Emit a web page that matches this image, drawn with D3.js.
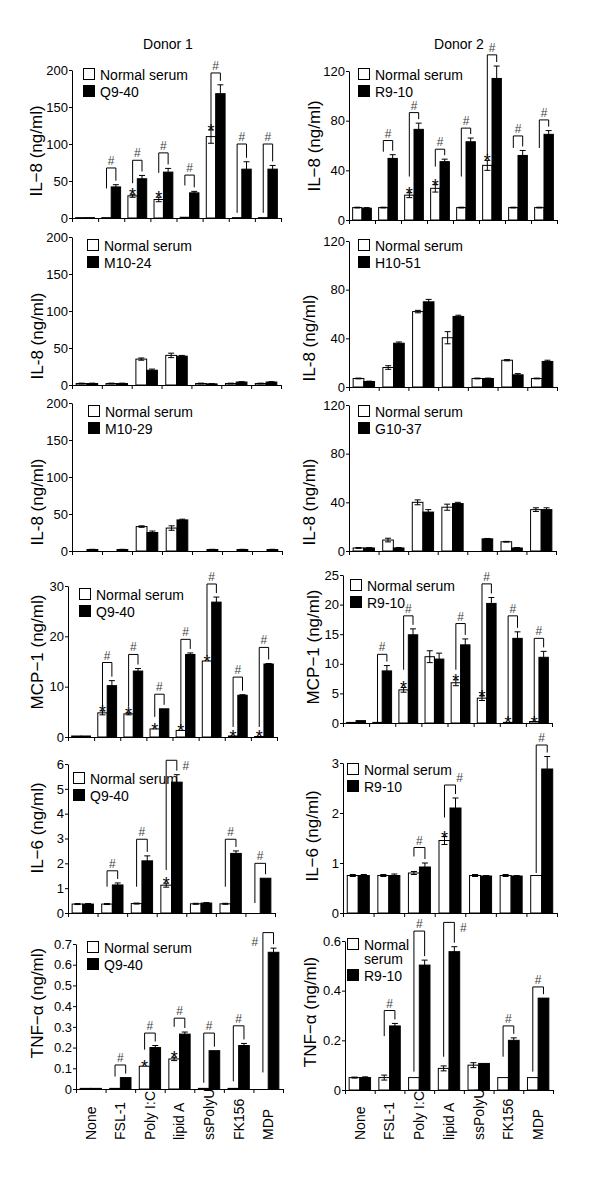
<!DOCTYPE html>
<html><head><meta charset="utf-8">
<script src="https://cdn.jsdelivr.net/npm/d3@7"></script>
<style>body{margin:0;background:#fff} text{font-family:"Liberation Sans",Arial,sans-serif}</style>
</head><body><svg id="c" width="600" height="1189"></svg>
<script>
// ---------- categories ----------
const stimuli = ["None","FSL-1","Poly I:C","lipid A","ssPolyU","FK156","MDP"];
const groups8 = ["g1","g2","g3","g4","g5","g6","g7","g8"];
// ---------- tick labels ----------
const ticksIL8a = [0,50,100,150,200];
const ticksIL8b = [0,40,80,120];
const ticksMCPa = [0,10,20,30];
const ticksMCPb = [0,5,10,15,20,25];
const ticksIL6a = [0,1,2,3,4,5,6];
const ticksIL6b = [0,1,2,3];
const ticksTNFa = [0,0.1,0.2,0.3,0.4,0.5,0.6,0.7];
const ticksTNFb = [0,0.2,0.4,0.6];

// ---------- Panel 1: IL-8 Donor 1, Q9-40 ----------
const p1Normal    = [0.5, 0.5, 30, 25, 1, 110, 0.5, 0.5];
const p1NormalErr = [0, 0, 2, 3, 0, 9, 0, 0];
const p1Serum     = [0.5, 42, 53, 62, 34, 168, 66, 66];
const p1SerumErr  = [0, 3, 4.5, 5, 2, 12, 10, 5];
const p1Star      = [0,0,1,1,0,1,0,0];
const p1BrTop     = [null, 67.6, 78, 88, 58, 196, 100, 100];
const p1BrLeft    = [null, 40, 47, 61, 44, 119, 7, 7];
const p1Hash      = ["c","c","c","c","c","c","c","c"];
// ---------- Panel 2: IL-8 Donor 2, R9-10 ----------
const p2Normal    = [10, 10, 20, 25.5, 10, 44, 10, 10];
const p2NormalErr = [0.3, 0.3, 2, 3, 0.3, 4, 0.3, 0.3];
const p2Serum     = [9.5, 49.6, 73, 47, 63, 114, 52, 69];
const p2SerumErr  = [0.5, 3, 5, 2, 3, 10, 4, 3];
const p2Star      = [0,0,1,1,0,1,0,0];
const p2BrTop     = [null, 64, 86.5, 57, 74, 133, 67.7, 80.6];
const p2BrLeft    = [null, 55, 35, 43, 35, 52, 58, 58];
const p2Hash      = ["c","c","c","c","c","c","c","c"];
// ---------- Panel 3: IL-8 Donor 1, M10-24 ----------
const p3Normal    = [2, 2, 35, 40, 2, 2, 2];
const p3NormalErr = [0.5, 0.5, 1.5, 3, 0.5, 0.5, 0.5];
const p3Serum     = [2, 2, 20, 39, 1.5, 4, 4];
const p3SerumErr  = [0.5, 0.5, 1.5, 1, 0.3, 0.5, 0.5];
// ---------- Panel 4: IL-8 Donor 2, H10-51 ----------
const p4Normal    = [7, 16, 62, 40.5, 7, 22, 7];
const p4NormalErr = [0.3, 1.5, 1, 5, 0.3, 0.5, 0.3];
const p4Serum     = [4.5, 36, 70, 58, 7, 10, 21];
const p4SerumErr  = [0.3, 1, 2, 1, 0.3, 1, 1];
// ---------- Panel 5: IL-8 Donor 1, M10-29 ----------
const p5Normal    = [0, 0, 33, 31, 0, 0, 0];
const p5NormalErr = [0, 0, 1, 3, 0, 0, 0];
const p5Serum     = [2, 2, 25, 42, 2, 2, 2];
const p5SerumErr  = [0.3, 0.3, 2, 1, 0.3, 0.3, 0.3];
// ---------- Panel 6: IL-8 Donor 2, G10-37 ----------
const p6Normal    = [2.5, 9, 40, 36, 0, 7.6, 34];
const p6NormalErr = [0.3, 1.5, 2, 2.5, 0, 0.3, 1.5];
const p6Serum     = [2.5, 2.5, 32, 39, 10, 2.5, 34];
const p6SerumErr  = [0.3, 0.3, 2, 1, 0.3, 0.3, 1.5];
// ---------- Panel 7: MCP-1 Donor 1, Q9-40 ----------
const p7Normal    = [0.2, 4.8, 4.6, 1.6, 1.3, 15.1, 0.2, 0.1];
const p7NormalErr = [0, 0.4, 0.2, 0, 0, 0, 0, 0];
const p7Serum     = [0.2, 10.2, 13.1, 5.6, 16.4, 26.8, 8.3, 14.5];
const p7SerumErr  = [0, 1, 0.5, 0, 0.3, 1, 0.1, 0.1];
const p7Star      = [0,1,1,1,1,1,1,1];
const p7BrTop     = [null, 14.8, 16.4, 8.5, 19.4, 30.4, 11.9, 17.8];
const p7BrLeft    = [null, 6, 6, 4, 2, 16, 2, 2];
const p7Hash      = ["c","c","c","c","c","c","c","c"];
// ---------- Panel 8: MCP-1 Donor 2, R9-10 ----------
const p8Normal    = [0.1, 0.1, 5.6, 11.2, 6.8, 4.2, 0.1, 0.25];
const p8NormalErr = [0, 0, 0.4, 1, 0.5, 0.4, 0, 0];
const p8Serum     = [0.4, 8.8, 14.9, 10.8, 13.2, 20.2, 14.3, 11.1];
const p8SerumErr  = [0, 0.9, 1, 1, 1, 1, 1.1, 1];
const p8Star      = [0,0,1,0,1,1,1,1];
const p8BrTop     = [null, 11.6, 18.1, null, 16.8, 23.5, 18.1, 14.3];
const p8BrLeft    = [null, 0, 9, null, 9, 4.4, 0.5, 0.5];
const p8Hash      = ["c","c","c","c","c","c","c","c"];
// ---------- Panel 9: IL-6 Donor 1, Q9-40 ----------
const p9Normal    = [0.36, 0.36, 0.38, 1.12, 0.37, 0.37, 0];
const p9NormalErr = [0.02, 0.02, 0.02, 0.08, 0.02, 0.02, 0];
const p9Serum     = [0.36, 1.13, 2.1, 5.27, 0.4, 2.4, 1.4];
const p9SerumErr  = [0.02, 0.08, 0.2, 0.3, 0.02, 0.1, 0];
const p9Star      = [0,0,0,1,0,0,0];
const p9BrTop     = [null, 1.7, 2.97, 6.15, null, 2.97, 2.0];
const p9BrLeft    = [null, 1.06, 1.06, 1.73, null, 1.06, 0.4];
const p9Hash      = ["c","c","c","r","c","c","c"];
// ---------- Panel 10: IL-6 Donor 2, R9-10 ----------
const p10Normal    = [0.75, 0.75, 0.8, 1.45, 0.75, 0.75, 0.75];
const p10NormalErr = [0.02, 0.02, 0.03, 0.08, 0.02, 0.02, 0];
const p10Serum     = [0.75, 0.75, 0.92, 2.1, 0.74, 0.74, 2.88];
const p10SerumErr  = [0.02, 0.03, 0.08, 0.2, 0.01, 0.01, 0.25];
const p10Star      = [0,0,0,1,0,0,0];
const p10BrTop     = [null, null, 1.31, 2.56, null, null, 3.36];
const p10BrLeft    = [null, null, 1.13, 1.91, null, null, 0.8];
const p10Hash      = ["c","c","c","cr","c","c","c"];
// ---------- Panel 11: TNF-a Donor 1, Q9-40 ----------
const p11Normal    = [0.003, 0.003, 0.11, 0.145, 0.003, 0.003, 0];
const p11NormalErr = [0, 0, 0, 0.008, 0, 0, 0];
const p11Serum     = [0.003, 0.055, 0.2, 0.265, 0.185, 0.21, 0.66];
const p11SerumErr  = [0, 0, 0.01, 0.01, 0, 0.01, 0.02];
const p11Star      = [0,0,1,1,0,0,0];
const p11BrTop     = [null, 0.116, 0.27, 0.342, 0.27, 0.305, 0.755];
const p11BrLeft    = [null, 0.06, 0.19, 0.30, 0.03, 0.037, 0.08];
const p11Hash      = ["c","c","c","c","c","c","l"];
// ---------- Panel 12: TNF-a Donor 2, R9-10 ----------
const p12Normal    = [0.05, 0.05, 0.05, 0.087, 0.1, 0.05, 0.05];
const p12NormalErr = [0.002, 0.01, 0, 0.01, 0.01, 0, 0];
const p12Serum     = [0.05, 0.258, 0.503, 0.557, 0.107, 0.2, 0.37];
const p12SerumErr  = [0.003, 0.01, 0.02, 0.02, 0, 0.01, 0];
const p12Star      = [0,0,0,0,0,0,0];
const p12BrTop     = [null, 0.32, 0.64, 0.675, null, 0.258, 0.415];
const p12BrLeft    = [null, 0.217, 0.074, 0.134, null, 0.134, 0.074];
const p12Hash      = ["c","c","c","r","c","c","c"];

const svg = d3.select("#c");
svg.append("rect").attr("width",600).attr("height",1189).attr("fill","#fff");

const intFmt = d3.format("d");
const decFmt = d => d === 0 ? "0" : d3.format(".1f")(d);

const panels = [
 {cats:groups8, n:p1Normal, ne:p1NormalErr, s:p1Serum, se:p1SerumErr, star:p1Star, bt:p1BrTop, bl:p1BrLeft, hp:p1Hash,
  x0:72, x1:281, yt:70, yb:218, max:200, ticks:ticksIL8a, fmt:intFmt, title:"IL−8 (ng/ml)", tx:42, ty:151, lx:83, ly:68, leg:[["Normal serum"],["Q9-40"]]},
 {cats:groups8, n:p2Normal, ne:p2NormalErr, s:p2Serum, se:p2SerumErr, star:p2Star, bt:p2BrTop, bl:p2BrLeft, hp:p2Hash,
  x0:349, x1:557, yt:71, yb:220, max:120, ticks:ticksIL8b, fmt:intFmt, title:"IL−8 (ng/ml)", tx:320, ty:146, lx:358, ly:68, leg:[["Normal serum"],["R9-10"]]},
 {cats:stimuli, n:p3Normal, ne:p3NormalErr, s:p3Serum, se:p3SerumErr,
  x0:72, x1:281, yt:237, yb:385, max:200, ticks:ticksIL8a, fmt:intFmt, title:"IL-8 (ng/ml)", tx:43, ty:336, lx:87, ly:239, leg:[["Normal serum"],["M10-24"]]},
 {cats:stimuli, n:p4Normal, ne:p4NormalErr, s:p4Serum, se:p4SerumErr,
  x0:349, x1:557, yt:241, yb:387, max:120, ticks:ticksIL8b, fmt:intFmt, title:"IL-8 (ng/ml)", tx:315, ty:338, lx:358, ly:239, leg:[["Normal serum"],["H10-51"]]},
 {cats:stimuli, n:p5Normal, ne:p5NormalErr, s:p5Serum, se:p5SerumErr,
  x0:72, x1:282, yt:403, yb:551, max:200, ticks:ticksIL8a, fmt:intFmt, title:"IL-8 (ng/ml)", tx:43, ty:502, lx:88, ly:405, leg:[["Normal serum"],["M10-29"]]},
 {cats:stimuli, n:p6Normal, ne:p6NormalErr, s:p6Serum, se:p6SerumErr,
  x0:349, x1:556, yt:405, yb:551, max:120, ticks:ticksIL8b, fmt:intFmt, title:"IL-8 (ng/ml)", tx:315, ty:502, lx:358, ly:405, leg:[["Normal serum"],["G10-37"]]},
 {cats:groups8, n:p7Normal, ne:p7NormalErr, s:p7Serum, se:p7SerumErr, star:p7Star, bt:p7BrTop, bl:p7BrLeft, hp:p7Hash,
  x0:68, x1:277, yt:586, yb:737, max:30, ticks:ticksMCPa, fmt:intFmt, title:"MCP−1 (ng/ml)", tx:43, ty:652, lx:79, ly:588, leg:[["Normal serum"],["Q9-40"]]},
 {cats:groups8, n:p8Normal, ne:p8NormalErr, s:p8Serum, se:p8SerumErr, star:p8Star, bt:p8BrTop, bl:p8BrLeft, hp:p8Hash,
  x0:343, x1:552, yt:575, yb:723, max:25, ticks:ticksMCPb, fmt:intFmt, title:"MCP−1 (ng/ml)", tx:319, ty:647, lx:350, ly:579, leg:[["Normal serum"],["R9-10"]]},
 {cats:stimuli, n:p9Normal, ne:p9NormalErr, s:p9Serum, se:p9SerumErr, star:p9Star, bt:p9BrTop, bl:p9BrLeft, hp:p9Hash,
  x0:68, x1:275, yt:764, yb:913, max:6, ticks:ticksIL6a, fmt:intFmt, title:"IL−6 (ng/ml)", tx:43, ty:828, lx:73, ly:772, leg:[["Normal serum"],["Q9-40"]]},
 {cats:stimuli, n:p10Normal, ne:p10NormalErr, s:p10Serum, se:p10SerumErr, star:p10Star, bt:p10BrTop, bl:p10BrLeft, hp:p10Hash,
  x0:343, x1:557, yt:763, yb:913, max:3, ticks:ticksIL6b, fmt:intFmt, title:"IL−6 (ng/ml)", tx:318, ty:836, lx:347, ly:763, leg:[["Normal serum"],["R9-10"]]},
 {cats:stimuli, n:p11Normal, ne:p11NormalErr, s:p11Serum, se:p11SerumErr, star:p11Star, bt:p11BrTop, bl:p11BrLeft, hp:p11Hash,
  x0:76, x1:283, yt:944, yb:1089, max:0.7, ticks:ticksTNFa, fmt:decFmt, title:"TNF−α (ng/ml)", tx:43, ty:1003, lx:87, ly:941, leg:[["Normal serum"],["Q9-40"]], xlabels:true},
 {cats:stimuli, n:p12Normal, ne:p12NormalErr, s:p12Serum, se:p12SerumErr, star:p12Star, bt:p12BrTop, bl:p12BrLeft, hp:p12Hash,
  x0:345, x1:553, yt:941, yb:1090, max:0.6, ticks:ticksTNFb, fmt:decFmt, title:"TNF−α (ng/ml)", tx:316, ty:1012, lx:347, ly:938, leg:[["Normal","serum"],["R9-10"]], xlabels:true}
];

function drawPanel(p) {
  const g = svg.append("g");
  const x = d3.scaleBand().domain(p.cats).range([p.x0, p.x1]);
  const y = d3.scaleLinear().domain([0, p.max]).range([p.yb, p.yt]);
  const bw = x.bandwidth();
  const wx = c => x(c) + bw * 0.14;
  const bx = c => x(c) + bw * 0.50;
  const barW = bw * 0.36;

  // bars
  g.selectAll("rect.n").data(p.cats).join("rect")
    .attr("x", c => wx(c)).attr("width", barW)
    .attr("y", (c,i) => y(p.n[i])).attr("height", (c,i) => p.yb - y(p.n[i]))
    .attr("fill", "#fff").attr("stroke", "#000").attr("stroke-width", 1);
  g.selectAll("rect.s").data(p.cats).join("rect")
    .attr("x", c => bx(c)).attr("width", barW)
    .attr("y", (c,i) => y(p.s[i])).attr("height", (c,i) => p.yb - y(p.s[i]))
    .attr("fill", "#000").attr("stroke", "#000").attr("stroke-width", 1);

  // error bars
  const errs = [];
  p.cats.forEach((c,i) => {
    if (p.ne[i] > 0) errs.push({cx: wx(c) + barW/2, v: p.n[i], e: p.ne[i]});
    if (p.se[i] > 0) errs.push({cx: bx(c) + barW/2, v: p.s[i], e: p.se[i]});
  });
  errs.forEach(d => {
    const t = y(d.v + d.e), b = y(Math.max(0, d.v - d.e));
    g.append("path").attr("d", `M${d.cx},${b}V${t}M${d.cx-3},${t}H${d.cx+3}M${d.cx-3},${b}H${d.cx+3}`)
      .attr("stroke", "#000").attr("stroke-width", 1).attr("fill", "none");
  });

  // stars
  if (p.star) p.cats.forEach((c,i) => {
    if (!p.star[i]) return;
    g.append("text").attr("x", wx(c) + barW/2).attr("y", y(p.n[i] + p.ne[i]) + 7)
      .attr("text-anchor", "middle").attr("font-size", 18).text("*");
  });

  // brackets
  if (p.bt) p.cats.forEach((c,i) => {
    if (p.bt[i] == null) return;
    const xl = wx(c) + barW/2, xr = bx(c) + barW/2;
    const top = y(p.bt[i]);
    const rb = y(p.s[i] + p.se[i]) - 4;
    g.append("path").attr("d", `M${xl},${y(p.bl[i])}V${top}H${xr}V${rb}`)
      .attr("stroke", "#000").attr("stroke-width", 1).attr("fill", "none");
    let hx = (xl + xr)/2, hy = top - 3;
    if (p.hp[i] === "r") { hx = xr + 9; hy = top + 10; }
    if (p.hp[i] === "cr") { hx = xr + 4; hy = top - 3; }
    if (p.hp[i] === "l") { hx = xl - 8; hy = top + 13; }
    g.append("text").attr("x", hx).attr("y", hy).attr("text-anchor", "middle")
      .attr("font-size", 12).attr("fill", "#444").text("#");
  });

  // y axis
  const ya = g.append("g").attr("transform", `translate(${p.x0},0)`)
    .call(d3.axisLeft(y).tickValues(p.ticks).tickFormat(p.fmt).tickSize(3).tickSizeOuter(0).tickPadding(1));
  ya.selectAll("text").attr("font-size", 13).attr("font-family", '"Liberation Sans",Arial,sans-serif').attr("fill", "#000");
  ya.selectAll("line,path").attr("stroke", "#000");

  // x axis
  const n = p.cats.length;
  const xb = d3.scaleLinear().domain([0, n]).range([p.x0, p.x1]);
  const xa = g.append("g").attr("transform", `translate(0,${p.yb})`)
    .call(d3.axisBottom(xb).tickValues(d3.range(n + 1)).tickFormat("").tickSize(4).tickSizeOuter(0));
  xa.selectAll("line,path").attr("stroke", "#000");

  // y title
  g.append("text").attr("transform", `translate(${p.tx},${p.ty}) rotate(-90)`)
    .attr("text-anchor", "middle").attr("font-size", 17).text(p.title);

  // legend
  const box = 11;
  g.append("rect").attr("x", p.lx + 0.5).attr("y", p.ly + 0.5).attr("width", box).attr("height", box)
    .attr("fill", "#fff").attr("stroke", "#000");
  p.leg[0].forEach((t,k) => g.append("text").attr("x", p.lx + 17).attr("y", p.ly + 11.5 + k*14).attr("font-size", 14).text(t));
  const ly2 = p.ly + 17 + (p.leg[0].length - 1) * 14;
  g.append("rect").attr("x", p.lx + 0.5).attr("y", ly2 + 0.5).attr("width", box).attr("height", box)
    .attr("fill", "#000").attr("stroke", "#000");
  g.append("text").attr("x", p.lx + 17).attr("y", ly2 + 11.5).attr("font-size", 14).text(p.leg[1][0]);

  // category labels
  if (p.xlabels) {
    g.selectAll("text.xl").data(p.cats).join("text")
      .attr("transform", c => `translate(${x(c) + bw/2},1140) rotate(-90)`)
      .attr("dy", "0.35em").attr("text-anchor", "start").attr("font-size", 14).text(c => c);
  }
}

panels.forEach(drawPanel);

svg.append("text").attr("x", 168).attr("y", 49).attr("text-anchor", "middle").attr("font-size", 14).text("Donor 1");
svg.append("text").attr("x", 459).attr("y", 49).attr("text-anchor", "middle").attr("font-size", 14).text("Donor 2");
</script></body></html>
